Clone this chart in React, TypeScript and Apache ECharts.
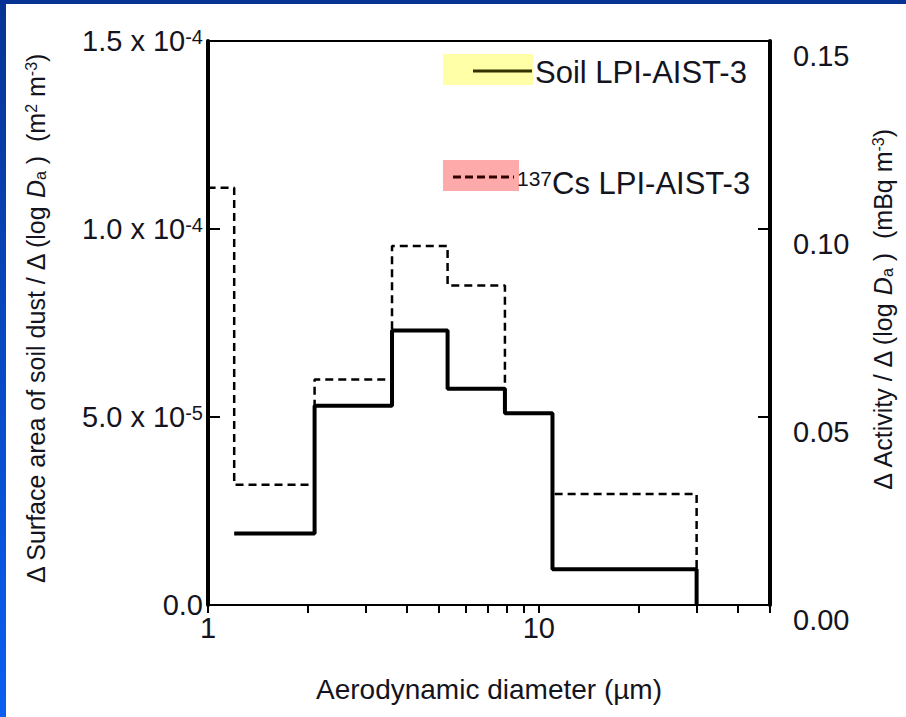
import React, { useEffect, useRef } from "react";
import * as echarts from "echarts";

// Bin edges (µm) and values
const soilEdges = [1.2, 2.1, 3.6, 5.3, 7.9, 11, 30];
const soilValues = [1.9e-5, 5.3e-5, 7.3e-5, 5.75e-5, 5.1e-5, 0.95e-5];
const csEdges = [0.76, 1.2, 2.1, 3.6, 5.3, 7.9, 11, 30];
const csValues = [0.111, 0.032, 0.06, 0.0955, 0.085, 0.051, 0.0295];

const xTickValues = [1, 2, 3, 4, 5, 6, 7, 8, 9, 10, 20, 30, 40, 50];
const xLabelValues = [1, 10];

const soilName = "Soil LPI-AIST-3";
const csName = "{sup|137}Cs LPI-AIST-3";
const xName = "Aerodynamic diameter (µm)";
const yLeftName = "Δ Surface area of soil dust / Δ (log {it|D}{sub|a} )  (m{sup|2} m{sup|-3})";
const yRightName = "Δ Activity / Δ (log {it|D}{sub|a} )  (mBq m{sup|-3})";

const FONT = "'Liberation Sans', Arial, sans-serif";
const TXT = "#141420";

function steps(edges: number[], vals: number[]): number[][] {
  const pts: number[][] = [];
  for (let i = 0; i < vals.length; i++) {
    pts.push([edges[i], vals[i]]);
    pts.push([edges[i + 1], vals[i]]);
  }
  pts.push([edges[edges.length - 1], 0]);
  return pts;
}

function sciLabel(v: number): string {
  if (v === 0) return "0.0";
  const e = Math.floor(Math.log10(v) + 1e-9);
  const m = v / Math.pow(10, e);
  return `${m.toFixed(1)} x 10{sup|${e}}`;
}

const nameRich = {
  it: { fontStyle: "italic", fontSize: 25, fontFamily: FONT, color: TXT },
  sub: { fontSize: 16, verticalAlign: "bottom", fontFamily: FONT, color: TXT, lineHeight: 14 },
  sup: { fontSize: 16, verticalAlign: "top", fontFamily: FONT, color: TXT, lineHeight: 14 },
};

export default function App() {
  const ref = useRef<HTMLDivElement>(null);
  useEffect(() => {
    if (!ref.current) return;
    const chart = echarts.init(ref.current, undefined, { renderer: "svg" });
    const option: any = {
      animation: false,
      backgroundColor: "#ffffff",
      grid: {
        left: 208,
        right: 136,
        top: 41,
        bottom: 112,
        show: true,
        borderColor: "#000",
        borderWidth: 2,
        backgroundColor: "transparent",
        containLabel: false,
        outerBoundsMode: "none",
      },
      xAxis: {
        type: "log",
        logBase: 10,
        min: 1,
        max: 50,
        name: xName,
        nameLocation: "middle",
        nameGap: 70,
        nameTextStyle: { fontSize: 28, fontFamily: FONT, color: TXT },
        axisLine: { lineStyle: { color: "#000", width: 2 } },
        axisTick: { show: true, inside: false, length: 8, lineStyle: { color: "#000", width: 2 }, customValues: xTickValues },
        axisLabel: { fontSize: 29, fontFamily: FONT, color: TXT, margin: 8, customValues: xLabelValues },
        splitLine: { show: false },
        minorTick: { show: false },
      },
      yAxis: [
        {
          type: "value",
          position: "left",
          min: 0,
          max: 1.5e-4,
          interval: 5e-5,
          name: yLeftName,
          nameLocation: "middle",
          nameRotate: 90,
          nameGap: 160,
          nameTextStyle: { fontSize: 25, fontFamily: FONT, color: TXT, rich: nameRich, padding: [0, 0, 0, 8] },
          axisLine: { show: true, lineStyle: { color: "#000", width: 4 } },
          axisTick: { show: true, inside: true, length: 12, lineStyle: { color: "#000", width: 2 } },
          axisLabel: {
            fontSize: 29,
            fontFamily: FONT,
            color: TXT,
            margin: 5,
            formatter: sciLabel,
            rich: { sup: { fontSize: 20, verticalAlign: "top", fontFamily: FONT, color: TXT } },
          },
          splitLine: { show: false },
        },
        {
          type: "value",
          position: "right",
          min: 0,
          max: 0.15,
          interval: 0.05,
          name: yRightName,
          nameLocation: "middle",
          nameRotate: 90,
          nameGap: 100,
          nameTextStyle: { fontSize: 25, fontFamily: FONT, color: TXT, rich: nameRich, padding: [0, 0, 0, 26] },
          axisLine: { show: true, lineStyle: { color: "#000", width: 4 } },
          axisTick: { show: true, inside: true, length: 12, lineStyle: { color: "#000", width: 2 } },
          axisLabel: {
            fontSize: 29,
            fontFamily: FONT,
            color: TXT,
            margin: 23,
            verticalAlign: "top",
            formatter: (v: number) => v.toFixed(2),
          },
          splitLine: { show: false },
        },
      ],
      series: [
        {
          name: soilName,
          type: "line",
          yAxisIndex: 0,
          data: steps(soilEdges, soilValues),
          symbol: "none",
          clip: true,
          lineStyle: { color: "#000", width: 4, type: "solid" },
          z: 3,
        },
        {
          name: "137Cs LPI-AIST-3",
          type: "line",
          yAxisIndex: 1,
          data: steps(csEdges, csValues),
          symbol: "none",
          clip: true,
          lineStyle: { color: "#000", width: 2.5, type: [8, 5] },
          z: 2,
        },
      ],
      graphic: [
        {
          type: "rect",
          left: 0,
          top: 0,
          shape: { x: 0, y: 0, width: 6, height: 717 },
          style: {
            fill: new echarts.graphic.LinearGradient(0, 0, 0, 1, [
              { offset: 0, color: "#073494" },
              { offset: 1, color: "#0a5ff2" },
            ]),
          },
          silent: true,
        },
        {
          type: "rect",
          left: 0,
          top: 0,
          shape: { x: 0, y: 0, width: 906, height: 4 },
          style: { fill: "#073494" },
          silent: true,
        },
        { type: "rect", shape: { x: 443, y: 54, width: 90, height: 31 }, style: { fill: "#ffffa8" }, silent: true },
        { type: "line", shape: { x1: 473, y1: 71, x2: 532, y2: 71 }, style: { stroke: "#333300", lineWidth: 3 }, silent: true },
        {
          type: "text",
          x: 535,
          y: 72,
          style: { text: soilName, font: `31px ${FONT}`, fill: TXT, verticalAlign: "middle", align: "left" },
          silent: true,
        },
        { type: "rect", shape: { x: 443, y: 160, width: 76, height: 31 }, style: { fill: "#ffaaaa" }, silent: true },
        {
          type: "line",
          shape: { x1: 453, y1: 177, x2: 514, y2: 177 },
          style: { stroke: "#330000", lineWidth: 3, lineDash: [8, 4] },
          silent: true,
        },
        {
          type: "text",
          x: 517,
          y: 183,
          style: {
            text: csName,
            font: `31px ${FONT}`,
            fill: TXT,
            verticalAlign: "middle",
            align: "left",
            rich: { sup: { fontSize: 21, verticalAlign: "top", fontFamily: FONT, fill: TXT } },
          },
          silent: true,
        },
      ],
    };
    chart.setOption(option);
    return () => chart.dispose();
  }, []);
  return (
    <div
      ref={ref}
      style={{ position: "fixed", left: 0, top: 0, width: 906, height: 717, background: "#fff" }}
    />
  );
}
